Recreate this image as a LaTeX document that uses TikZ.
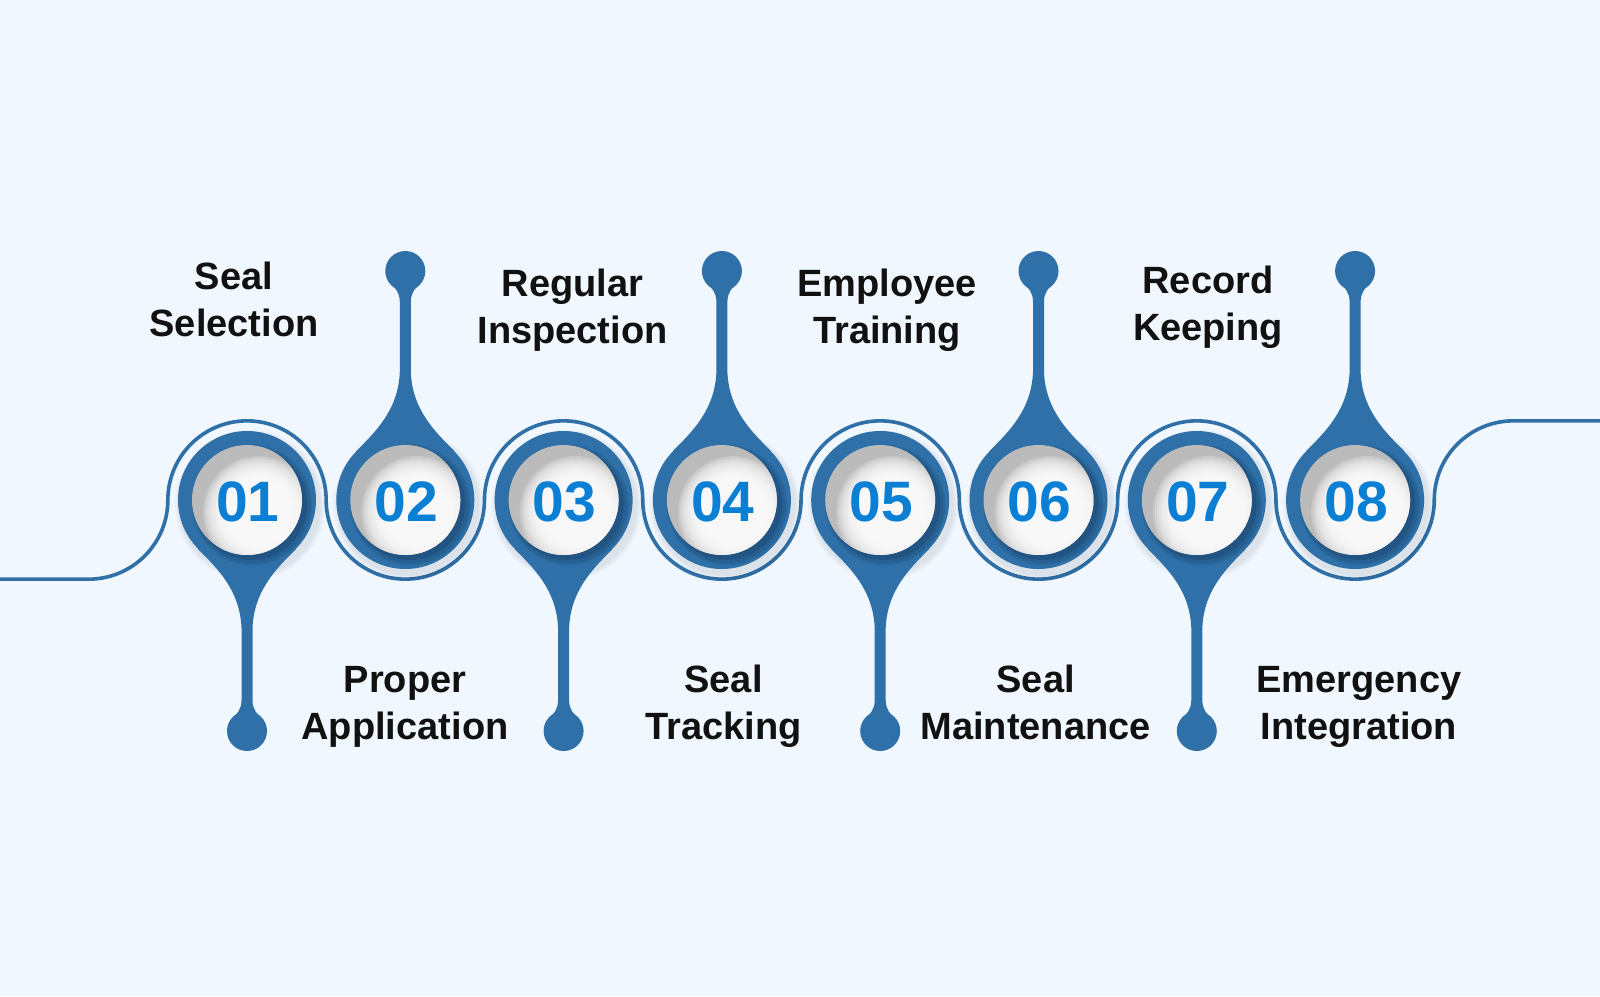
\documentclass[tikz,border=0pt]{standalone}
\usepackage{fontspec}
\setmainfont{Liberation Sans}
\definecolor{bg}{HTML}{F0F7FE}
\definecolor{dropblue}{HTML}{2E70A7}
\definecolor{shadeblue}{HTML}{215482}
\definecolor{numblue}{HTML}{0A7FD3}
\definecolor{facegray}{HTML}{BBBBBB}
\definecolor{txt}{HTML}{111111}
\tikzset{
  num/.style={inner sep=0pt, text=numblue, font=\fontsize{28.5pt}{30pt}\selectfont\bfseries},
  lbl/.style={inner sep=0pt, align=center, text=txt, font=\fontsize{19pt}{23.5pt}\selectfont\bfseries},
  ringline/.style={draw=dropblue, line width=1.8pt}
}
\begin{document}
\begin{tikzpicture}[x=0.5pt,y=-0.5pt]
\fill[bg] (0,0) rectangle (1600,996);
\useasboundingbox (0,0) rectangle (1600,996);
\def\R{79.15}
% wavy connector
\coordinate (start) at (0,579.15);
\coordinate (finish) at (1600,420.85);
\draw[ringline] (start) -- (88.7,579.15) arc[start angle=90,end angle=0,radius=\R]
  arc[start angle=180,end angle=360,radius=\R]
  arc[start angle=180,end angle=0,radius=\R]
  arc[start angle=180,end angle=360,radius=\R]
  arc[start angle=180,end angle=0,radius=\R]
  arc[start angle=180,end angle=360,radius=\R]
  arc[start angle=180,end angle=0,radius=\R]
  arc[start angle=180,end angle=360,radius=\R]
  arc[start angle=180,end angle=0,radius=\R]
  arc[start angle=180,end angle=270,radius=\R] -- (finish);
% circles with drops
\foreach \i/\dir/\bl in {1/1/231,2/-1/229,3/1/231,4/-1/229,5/1/231,6/-1/229,7/1/231,8/-1/229}{
  \pgfmathsetmacro\cx{247+158.3*(\i-1)}
  \coordinate (c\i) at (\cx,500);
  % soft drop shadow on background
  \foreach \r in {75,73,71}{\fill[black,opacity=0.028] ([shift={(3,5)}]c\i) circle (\r);}
  \begin{scope}[shift={(c\i)}, yscale=\dir]
    \fill[dropblue] (-49,49) .. controls (-30,68) and (-7,90) .. (-5.5,128)
      -- (-5.5,\bl-31) .. controls (-5.5,\bl-21) and (-10,\bl-18) .. (-15,\bl-11)
      -- (15,\bl-11) .. controls (10,\bl-18) and (5.5,\bl-21) .. (5.5,\bl-31)
      -- (5.5,128) .. controls (7,90) and (30,68) .. (49,49) -- cycle;
    \fill[dropblue] (0,\bl) circle (20);
    \fill[dropblue] (0,0) circle (69);
  \end{scope}
  \begin{scope}[shift={(c\i)}]
    \foreach \r in {60,58}{\fill[shadeblue,opacity=0.35] (5,5) circle (\r);}
    \fill[shadeblue] (4,4) circle (56);
    \fill[facegray] (0,0) circle (55);
    \begin{scope}
      \clip (0,0) circle (55);
      \foreach \r in {56,54,...,34}{\fill[white,opacity=0.2] (12,12) circle (\r);}
    \end{scope}
  \end{scope}
  \node[num] (n\i) at ([shift={(1,2)}]c\i) {0\i};
}
% labels
\node[lbl] (l1) at (234,303.3) {Seal\strut\\Selection\strut};
\node[lbl] (l3) at (572.5,310.5) {Regular\strut\\Inspection\strut};
\node[lbl] (l5) at (887,310.5) {Employee\strut\\Training\strut};
\node[lbl] (l7) at (1208,307.4) {Record\strut\\Keeping\strut};
\node[lbl] (l2) at (405,706.4) {Proper\strut\\Application\strut};
\node[lbl] (l4) at (723.5,706.4) {Seal\strut\\Tracking\strut};
\node[lbl] (l6) at (1035.7,706.4) {Seal\strut\\Maintenance\strut};
\node[lbl] (l8) at (1359,706.4) {Emergency\strut\\Integration\strut};
\end{tikzpicture}
\end{document}
